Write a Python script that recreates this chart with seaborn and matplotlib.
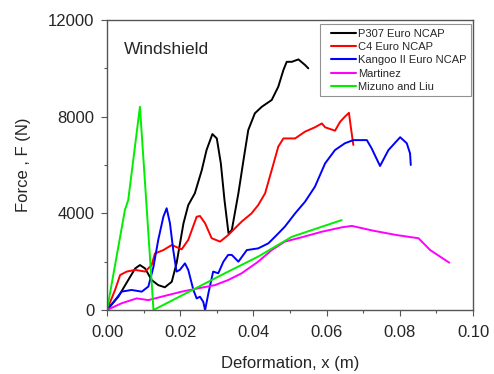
import matplotlib
matplotlib.use("Agg")
import matplotlib.pyplot as plt
from matplotlib.ticker import MultipleLocator, FormatStrFormatter
from matplotlib.legend_handler import HandlerLine2D
import numpy as np
import pandas as pd
import seaborn as sns

sns.set_style("ticks")
plt.rcParams["font.family"] = ["Liberation Sans", "DejaVu Sans"]

# Force–deformation curves (deformation in m, force in N)
p307_x = [0.0, 0.0031, 0.0058, 0.0077, 0.0090, 0.0104, 0.0122, 0.0140, 0.0158, 0.0177,
          0.0190, 0.0209, 0.0222, 0.0240, 0.0259, 0.0272, 0.0288, 0.0300, 0.0311, 0.0321,
          0.0332, 0.0341, 0.0359, 0.0373, 0.0386, 0.0404, 0.0423, 0.0450, 0.0468, 0.0482,
          0.0491, 0.0505, 0.0523, 0.0541, 0.0550]
p307_f = [0, 550, 1240, 1720, 1860, 1720, 1240, 1030, 940, 1170,
          1930, 3590, 4340, 4830, 5790, 6620, 7280, 7100, 6070, 4550,
          3170, 3310, 4830, 6210, 7450, 8140, 8410, 8690, 9240, 9930,
          10270, 10270, 10370, 10140, 10000]

c4_x = [0.0, 0.0022, 0.0036, 0.0054, 0.0077, 0.0104, 0.0122, 0.0131, 0.0154, 0.0177,
        0.0204, 0.0222, 0.0245, 0.0254, 0.0268, 0.0286, 0.0309, 0.0331, 0.0368, 0.0395,
        0.0413, 0.0432, 0.0450, 0.0468, 0.0482, 0.0514, 0.0541, 0.0568, 0.0587, 0.0596,
        0.0623, 0.0637, 0.0650, 0.0661, 0.0666, 0.0673]
c4_f = [0, 830, 1450, 1590, 1660, 1590, 1860, 2340, 2480, 2690,
        2510, 2900, 3860, 3890, 3590, 2970, 2830, 3100, 3660, 4000,
        4340, 4830, 5790, 6760, 7100, 7100, 7380, 7560, 7720, 7560,
        7420, 7790, 8000, 8160, 7590, 6830]

kangoo_x = [0.0, 0.0022, 0.0040, 0.0067, 0.0095, 0.0113, 0.0127, 0.0140, 0.0154, 0.0163,
            0.0172, 0.0181, 0.0190, 0.0199, 0.0213, 0.0222, 0.0236, 0.0245, 0.0254, 0.0263,
            0.0268, 0.0277, 0.0290, 0.0304, 0.0318, 0.0331, 0.0341, 0.0359, 0.0382, 0.0413,
            0.0441, 0.0459, 0.0486, 0.0514, 0.0541, 0.0568, 0.0596, 0.0623, 0.0650, 0.0673,
            0.0710, 0.0723, 0.0746, 0.0769, 0.0801, 0.0819, 0.0828, 0.0830]
kangoo_f = [0, 410, 760, 830, 760, 970, 1790, 2900, 3860, 4210,
            3590, 2480, 1590, 1660, 1930, 1660, 830, 480, 550, 340,
            0, 690, 1590, 1520, 2000, 2280, 2280, 2000, 2480, 2550,
            2760, 3030, 3450, 4000, 4480, 5100, 6070, 6620, 6900, 7030,
            7030, 6690, 5960, 6620, 7150, 6900, 6480, 6000]

martinez_x = [0.0, 0.0040, 0.0081, 0.0113, 0.0149, 0.0204, 0.0250, 0.0295, 0.0331, 0.0368,
              0.0413, 0.0450, 0.0486, 0.0532, 0.0587, 0.0641, 0.0669, 0.0728, 0.0792, 0.0851,
              0.0883, 0.0935]
martinez_f = [0, 280, 480, 410, 550, 760, 900, 1030, 1240, 1520,
              2000, 2480, 2830, 3010, 3240, 3420, 3480, 3280, 3100, 2970,
              2480, 1960]

mizuno_x = [0.0, 0.0031, 0.0049, 0.0058, 0.0090, 0.0127, 0.0322, 0.0413, 0.0505, 0.0641]
mizuno_f = [0, 2620, 4140, 4550, 8410, 0, 1520, 2210, 3030, 3720]

series = ["P307 Euro NCAP", "C4 Euro NCAP", "Kangoo II Euro NCAP", "Martinez", "Mizuno and Liu"]
colors = ["#000000", "#ff0000", "#0000ff", "#ff00ff", "#00ee00"]

frames = []
for name, xs, fs in zip(series,
                        [p307_x, c4_x, kangoo_x, martinez_x, mizuno_x],
                        [p307_f, c4_f, kangoo_f, martinez_f, mizuno_f]):
    frames.append(pd.DataFrame({"x": xs, "F": fs, "series": name}))
df = pd.concat(frames, ignore_index=True)


class InsetLineHandler(HandlerLine2D):
    """Legend line that leaves a small gap on its left side."""

    def get_xdata(self, legend, xdescent, ydescent, width, height, fontsize):
        xdata = [-xdescent + 0.21 * width, -xdescent + width]
        return xdata, [-xdescent + 0.6 * width]


fig = plt.figure(figsize=(4.94, 3.74), dpi=100)
ax = fig.add_axes([0.2166, 0.1711, 0.7409, 0.7754])

sns.lineplot(data=df, x="x", y="F", hue="series", hue_order=series,
             palette=dict(zip(series, colors)), sort=False, estimator=None,
             units="series", linewidth=1.4, ax=ax, legend=True)

ax.set_xlim(0, 0.10)
ax.set_ylim(0, 12000)
ax.xaxis.set_major_locator(MultipleLocator(0.02))
ax.xaxis.set_minor_locator(MultipleLocator(0.01))
ax.yaxis.set_major_locator(MultipleLocator(4000))
ax.yaxis.set_minor_locator(MultipleLocator(2000))
ax.xaxis.set_major_formatter(FormatStrFormatter("%.2f"))
ax.tick_params(which="major", length=4.5, width=0.8, color="#555555",
               labelsize=12, pad=4.5)
ax.tick_params(axis="x", which="major", pad=6.5)
ax.tick_params(which="minor", length=2.5, width=0.8, color="#555555")

for s in ax.spines.values():
    s.set_color("#555555")
    s.set_linewidth(1.0)
    s.set_visible(True)

ax.set_xlabel("Deformation, x (m)", fontsize=12, labelpad=11)
ax.set_ylabel("Force , F (N)", fontsize=12, labelpad=12)

ax.text(0.045, 0.90, "Windshield", transform=ax.transAxes, fontsize=12.5,
        ha="left", va="center")

handles, labels = ax.get_legend_handles_labels()
leg = ax.legend(handles, labels, loc="upper right", bbox_to_anchor=(0.995, 0.986),
                fontsize=8, frameon=True, fancybox=False, edgecolor="#777777",
                handlelength=2.85, handletextpad=0.2, borderpad=0.4,
                labelspacing=0.3, borderaxespad=0,
                handler_map={h: InsetLineHandler() for h in handles})
leg.get_frame().set_linewidth(0.8)
for line in leg.get_lines():
    line.set_linewidth(1.5)

fig.savefig("out.png", dpi=100)
